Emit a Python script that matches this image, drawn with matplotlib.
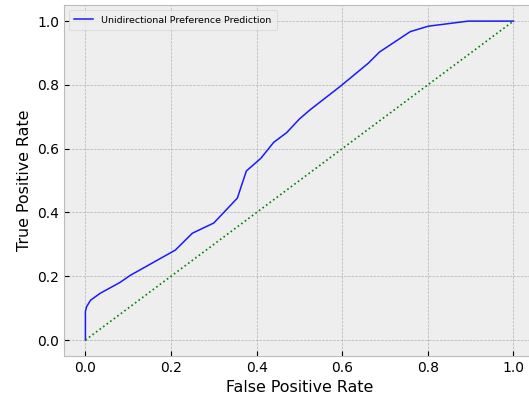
import matplotlib
matplotlib.use("Agg")
import matplotlib.pyplot as plt

# ROC curve points
fpr = [0.0, 0.0, 0.003, 0.012, 0.035, 0.08, 0.105, 0.21, 0.25, 0.30, 0.355,
       0.376, 0.41, 0.44, 0.47, 0.50, 0.525, 0.596, 0.661, 0.687, 0.759,
       0.801, 0.895, 1.0]
tpr = [0.0, 0.09, 0.105, 0.125, 0.147, 0.18, 0.203, 0.282, 0.335, 0.367,
       0.445, 0.53, 0.57, 0.62, 0.65, 0.693, 0.722, 0.796, 0.868, 0.903,
       0.967, 0.984, 1.0, 1.0]
diag = [0.0, 1.0]

plt.style.use("bmh")
fig, ax = plt.subplots(figsize=(5.29, 3.96), dpi=100)
ax.plot(fpr, tpr, color="#1a1aff", linewidth=1.1, label="Unidirectional Preference Prediction")
ax.plot(diag, diag, "g:", linewidth=1.2)
ax.set_xlabel("False Positive Rate", fontsize=11.4)
ax.set_ylabel("True Positive Rate", fontsize=11.4)
ax.tick_params(labelsize=10)
ax.legend(loc="upper left", fontsize=6.8, borderpad=0.6)
# axes run past the right edge in the reference (it was cropped)
fig.subplots_adjust(left=0.121, right=1.011, top=0.987, bottom=0.101)
fig.savefig("out.png")
